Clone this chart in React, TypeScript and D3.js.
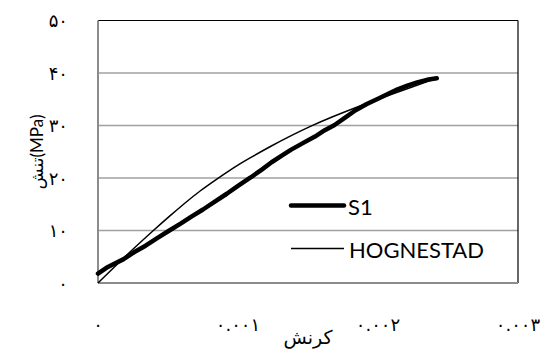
import React from "react";
import * as d3 from "d3";

// Measured stress-strain curve (S1)
const s1Strain = [0, 0.00006, 0.00012, 0.00018, 0.00026, 0.00034, 0.00042, 0.00051, 0.00059, 0.00067, 0.00075, 0.00084, 0.00092, 0.001, 0.00109, 0.00117, 0.00124, 0.00131, 0.00138, 0.00146, 0.00155, 0.00162, 0.00169, 0.00176, 0.00184, 0.00192, 0.002, 0.00207, 0.00214, 0.00221, 0.00228, 0.00235, 0.00242];
const s1Stress = [1.8, 2.9, 3.7, 4.5, 5.9, 7.1, 8.5, 10.0, 11.3, 12.7, 14.0, 15.6, 17.0, 18.5, 20.1, 21.6, 23.0, 24.2, 25.4, 26.6, 27.9, 29.1, 30.1, 31.4, 32.9, 34.1, 35.1, 36.0, 36.9, 37.6, 38.2, 38.7, 39.0];

// Hognestad model curve
const hogStrain = [0, 0.00013, 0.00026, 0.000395, 0.00051, 0.00061, 0.00073, 0.00086, 0.00097, 0.00107, 0.00123, 0.00138, 0.00153, 0.00165, 0.00185, 0.00204, 0.00225, 0.00242];
const hogStress = [0, 3.4, 6.7, 10.0, 12.7, 15.0, 17.6, 20.0, 22.0, 23.6, 26.0, 28.1, 30.0, 31.4, 33.5, 35.4, 37.4, 39.0];

// Axis ticks
const xTicks = [0, 0.001, 0.002, 0.003];
const xTickLabels = ["۰", "۰.۰۰۱", "۰.۰۰۲", "۰.۰۰۳"];
const yTicks = [0, 10, 20, 30, 40, 50];
const yTickLabels = ["۰", "۱۰", "۲۰", "۳۰", "۴۰", "۵۰"];

const seriesNames = ["S1", "HOGNESTAD"];

const W = 549;
const H = 352;
const plot = { left: 98, right: 518, top: 20.5, bottom: 283 };

export default function App() {
  const x = d3.scaleLinear().domain([0, 0.003]).range([plot.left, plot.right]);
  const y = d3.scaleLinear().domain([0, 50]).range([plot.bottom, plot.top]);

  const s1 = s1Strain.map((e, i) => [e, s1Stress[i]] as [number, number]);
  const hog = hogStrain.map((e, i) => [e, hogStress[i]] as [number, number]);

  const lineLinear = d3
    .line<[number, number]>()
    .x((d) => x(d[0]))
    .y((d) => y(d[1]));
  const lineSmooth = d3
    .line<[number, number]>()
    .x((d) => x(d[0]))
    .y((d) => y(d[1]))
    .curve(d3.curveBasis);

  const sansFont = "Lato, 'DejaVu Sans', sans-serif";
  const digitFont = "'DejaVu Sans', serif";

  return (
    <svg
      width={W}
      height={H}
      style={{ position: "absolute", left: 0, top: 0, background: "#fff" }}
    >
      <rect x={0} y={0} width={W} height={H} fill="#fff" />

      {/* horizontal gridlines */}
      {yTicks.slice(1).map((t) => (
        <line
          key={"g" + t}
          x1={plot.left}
          x2={plot.right}
          y1={y(t)}
          y2={y(t)}
          stroke={t === 50 ? "#000" : "#a0a0a0"}
          strokeWidth={t === 50 ? 1.2 : 1.5}
        />
      ))}
      {/* right border */}
      <line x1={plot.right} x2={plot.right} y1={plot.top} y2={plot.bottom} stroke="#000" strokeWidth={1.2} />
      {/* axes */}
      <line x1={plot.left} x2={plot.left} y1={plot.top} y2={plot.bottom} stroke="#8c8c8c" strokeWidth={2} />
      <line x1={plot.left} x2={plot.right} y1={plot.bottom} y2={plot.bottom} stroke="#8c8c8c" strokeWidth={2} />

      {/* y tick labels */}
      {yTicks.map((t, i) => (
        <text
          key={"yl" + t}
          x={68}
          y={y(t)}
          textAnchor="end"
          dominantBaseline="central"
          fontFamily={digitFont}
          fontSize={18}
          fill="#000"
        >
          {yTickLabels[i]}
        </text>
      ))}

      {/* x tick labels */}
      {xTicks.map((t, i) => (
        <text
          key={"xl" + t}
          x={x(t)}
          y={324}
          textAnchor="middle"
          dominantBaseline="central"
          fontFamily={digitFont}
          fontSize={18}
          fill="#000"
        >
          {xTickLabels[i]}
        </text>
      ))}

      {/* axis titles */}
      <text
        x={(plot.left + plot.right) / 2}
        y={344}
        textAnchor="middle"
        fontFamily="'DejaVu Sans', serif"
        fontSize={19}
        fill="#000"
      >
        کرنش
      </text>
      <text
        transform={`translate(43, ${(plot.top + plot.bottom) / 2}) rotate(-90)`}
        textAnchor="middle"
        fontFamily={sansFont}
        fontSize={17}
        fill="#000"
      >
        تنش(MPa)
      </text>

      {/* curves */}
      <path d={lineSmooth(hog) ?? ""} fill="none" stroke="#000" strokeWidth={1.5} />
      <path
        d={lineLinear(s1) ?? ""}
        fill="none"
        stroke="#000"
        strokeWidth={4.5}
        strokeLinejoin="round"
        strokeLinecap="round"
      />

      {/* legend */}
      <line x1={291} x2={344} y1={205.5} y2={205.5} stroke="#000" strokeWidth={4.5} strokeLinecap="round" />
      <text x={348} y={206} dominantBaseline="central" fontFamily={sansFont} fontSize={22} fill="#000">
        {seriesNames[0]}
      </text>
      <line x1={291} x2={344} y1={248.5} y2={248.5} stroke="#000" strokeWidth={1.5} />
      <text x={349} y={249} dominantBaseline="central" fontFamily={sansFont} fontSize={22} fill="#000">
        {seriesNames[1]}
      </text>
    </svg>
  );
}
